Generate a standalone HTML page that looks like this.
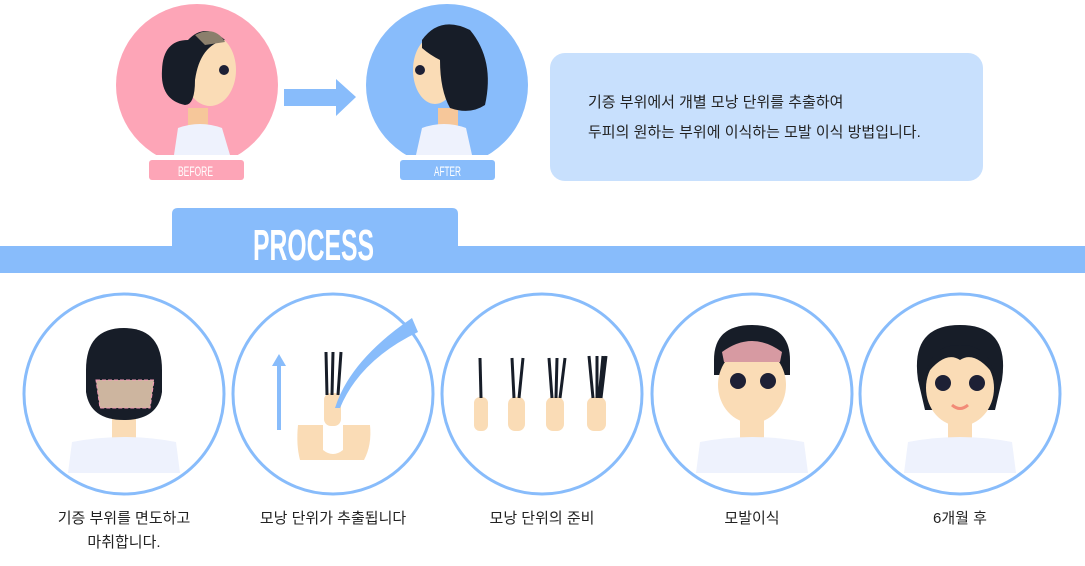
<!DOCTYPE html>
<html><head><meta charset="utf-8"><style>
body{margin:0;width:1085px;height:566px;background:#fff;overflow:hidden;position:relative;font-family:"Liberation Sans","Noto Sans CJK KR",sans-serif}
.t{position:absolute;font-size:15px;color:#222;text-align:center;width:200px;line-height:24px}
</style></head><body>
<svg width="1085" height="566" style="position:absolute;left:0;top:0">
<defs>
<clipPath id="cb"><rect x="0" y="0" width="1085" height="155"/></clipPath>
</defs>
<g clip-path="url(#cb)">
<circle cx="197" cy="85" r="81" fill="#fda5b7"/>
<rect x="188" y="108" width="20" height="20" fill="#f6c79a"/>
<path d="M174 155 L178 128 Q200 120 222 128 L230 155Z" fill="#eef2fd"/>
<ellipse cx="210" cy="70" rx="26" ry="36" fill="#fadcb6"/>
<path d="M188 40 Q205 22 225 40 Q200 45 195 80 Q195 105 185 105 Q160 100 162 70 Q163 40 188 40Z" fill="#171d28"/>
<path d="M195 35 Q215 25 225 42 L205 45Z" fill="#8b7f6c"/>
<circle cx="224" cy="70" r="5" fill="#1d2035"/>
<circle cx="447" cy="85" r="81" fill="#88bcfb"/>
<rect x="438" y="108" width="20" height="20" fill="#f6c79a"/>
<path d="M416 155 L422 128 Q444 120 466 128 L472 155Z" fill="#eef2fd"/>
<ellipse cx="435" cy="70" rx="22" ry="34" fill="#fadcb6"/>
<path d="M422 40 Q440 15 470 30 Q495 60 485 105 Q470 115 450 108 Q440 90 440 60 Q430 55 422 48Z" fill="#171d28"/>
<circle cx="420" cy="70" r="5" fill="#1d2035"/>
</g>
<rect x="149" y="160" width="95" height="20" rx="3" fill="#fda5b7"/>
<rect x="400" y="160" width="95" height="20" rx="3" fill="#88bcfb"/>
<text x="178" y="176" fill="#fff" font-size="14" textLength="35" lengthAdjust="spacingAndGlyphs" font-family="Liberation Sans Narrow,Liberation Sans,sans-serif">BEFORE</text>
<text x="434" y="176" fill="#fff" font-size="14" textLength="27" lengthAdjust="spacingAndGlyphs" font-family="Liberation Sans Narrow,Liberation Sans,sans-serif">AFTER</text>
<path d="M284 89 H336 V79 L356 97 L336 116 V106 H284Z" fill="#88bcfb"/>
<rect x="550" y="53" width="433" height="128" rx="15" fill="#c8e0fd"/>
<rect x="0" y="246" width="1085" height="27" fill="#88bcfb"/>
<path d="M172 246 V214 Q172 208 178 208 H452 Q458 208 458 214 V246Z" fill="#88bcfb"/>
<text x="253" y="260" fill="#fff" font-size="44" font-weight="bold" textLength="121" lengthAdjust="spacingAndGlyphs" font-family="Liberation Sans Narrow,Liberation Sans,sans-serif">PROCESS</text>
<g fill="none" stroke="#88bcfb" stroke-width="3">
<circle cx="124" cy="394" r="100"/><circle cx="333" cy="394" r="100"/><circle cx="542" cy="394" r="100"/><circle cx="752" cy="394" r="100"/><circle cx="960" cy="394" r="100"/>
</g>
<rect x="112" y="415" width="24" height="25" fill="#fadcb6"/>
<path d="M68 473 L72 442 Q124 432 176 442 L180 473Z" fill="#eef2fd"/>
<path d="M86 370 Q86 328 124 328 Q162 328 162 370 V392 Q158 420 124 420 Q90 420 86 392Z" fill="#171d28"/>
<path d="M96 380 H154 L150 408 H100Z" fill="#cdb59f" stroke="#f49ab7" stroke-dasharray="4 2"/>
<path d="M279 430 V360" stroke="#88bcfb" stroke-width="4"/><path d="M272 366 L279 354 L286 366Z" fill="#88bcfb"/>
<path d="M298 425 H370 Q372 445 364 460 H300 Q296 445 298 425Z" fill="#fadcb6"/>
<path d="M323 425 V450 Q333 458 343 450 V425Z" fill="#fff"/>
<rect x="324" y="393" width="17" height="33" rx="7" fill="#fadcb6"/>
<path d="M327 395 L326 352 M332 395 L333 352 M338 395 L341 352" stroke="#171d28" stroke-width="3"/>
<path d="M335 408 Q350 360 412 318 L418 332 Q360 360 340 408Z" fill="#88bcfb"/>
<g fill="#fadcb6"><rect x="474" y="397" width="14" height="34" rx="6"/><rect x="508" y="397" width="17" height="34" rx="7"/><rect x="546" y="397" width="18" height="34" rx="7"/><rect x="587" y="397" width="19" height="34" rx="7"/></g>
<g stroke="#171d28" stroke-width="3"><path d="M481 398 L480 358"/><path d="M514 398 L512 358 M519 398 L523 358"/><path d="M552 398 L549 358 M556 398 L557 358 M560 398 L565 358"/><path d="M593 398 L589 356 M597 398 L597 356 M601 398 L606 356 M599 398 L603 356"/></g>
<rect x="740" y="415" width="24" height="25" fill="#fadcb6"/>
<path d="M696 473 L700 442 Q752 432 804 442 L808 473Z" fill="#eef2fd"/>
<path d="M714 360 Q714 325 752 325 Q790 325 790 360 V375 H714Z" fill="#171d28"/>
<ellipse cx="752" cy="385" rx="34" ry="38" fill="#fadcb6"/>
<path d="M722 352 Q752 330 782 352 L780 362 H724Z" fill="#d79aa2"/>
<circle cx="738" cy="381" r="8" fill="#1d2035"/><circle cx="768" cy="381" r="8" fill="#1d2035"/>
<rect x="948" y="415" width="24" height="25" fill="#fadcb6"/>
<path d="M904 473 L908 442 Q960 432 1012 442 L1016 473Z" fill="#eef2fd"/>
<path d="M918 380 Q910 325 960 325 Q1010 325 1002 380 L995 410 H925Z" fill="#171d28"/>
<ellipse cx="960" cy="388" rx="34" ry="38" fill="#fadcb6"/>
<path d="M926 375 Q930 345 960 345 Q990 345 994 375 Q975 350 960 360 Q945 350 926 375Z" fill="#171d28"/>
<circle cx="943" cy="383" r="8" fill="#1d2035"/><circle cx="977" cy="383" r="8" fill="#1d2035"/>
<path d="M952 405 Q960 412 968 405" stroke="#f28b77" stroke-width="3" fill="none"/>
</svg>
<div style="position:absolute;left:588px;top:88px;font-size:15px;line-height:30px;color:#222">기증 부위에서 개별 모낭 단위를 추출하여<br>두피의 원하는 부위에 이식하는 모발 이식 방법입니다.</div>
<div class="t" style="left:24px;top:507px">기증 부위를 면도하고<br>마취합니다.</div>
<div class="t" style="left:233px;top:507px">모낭 단위가 추출됩니다</div>
<div class="t" style="left:442px;top:507px">모낭 단위의 준비</div>
<div class="t" style="left:652px;top:507px">모발이식</div>
<div class="t" style="left:860px;top:507px">6개월 후</div>
</body></html>
